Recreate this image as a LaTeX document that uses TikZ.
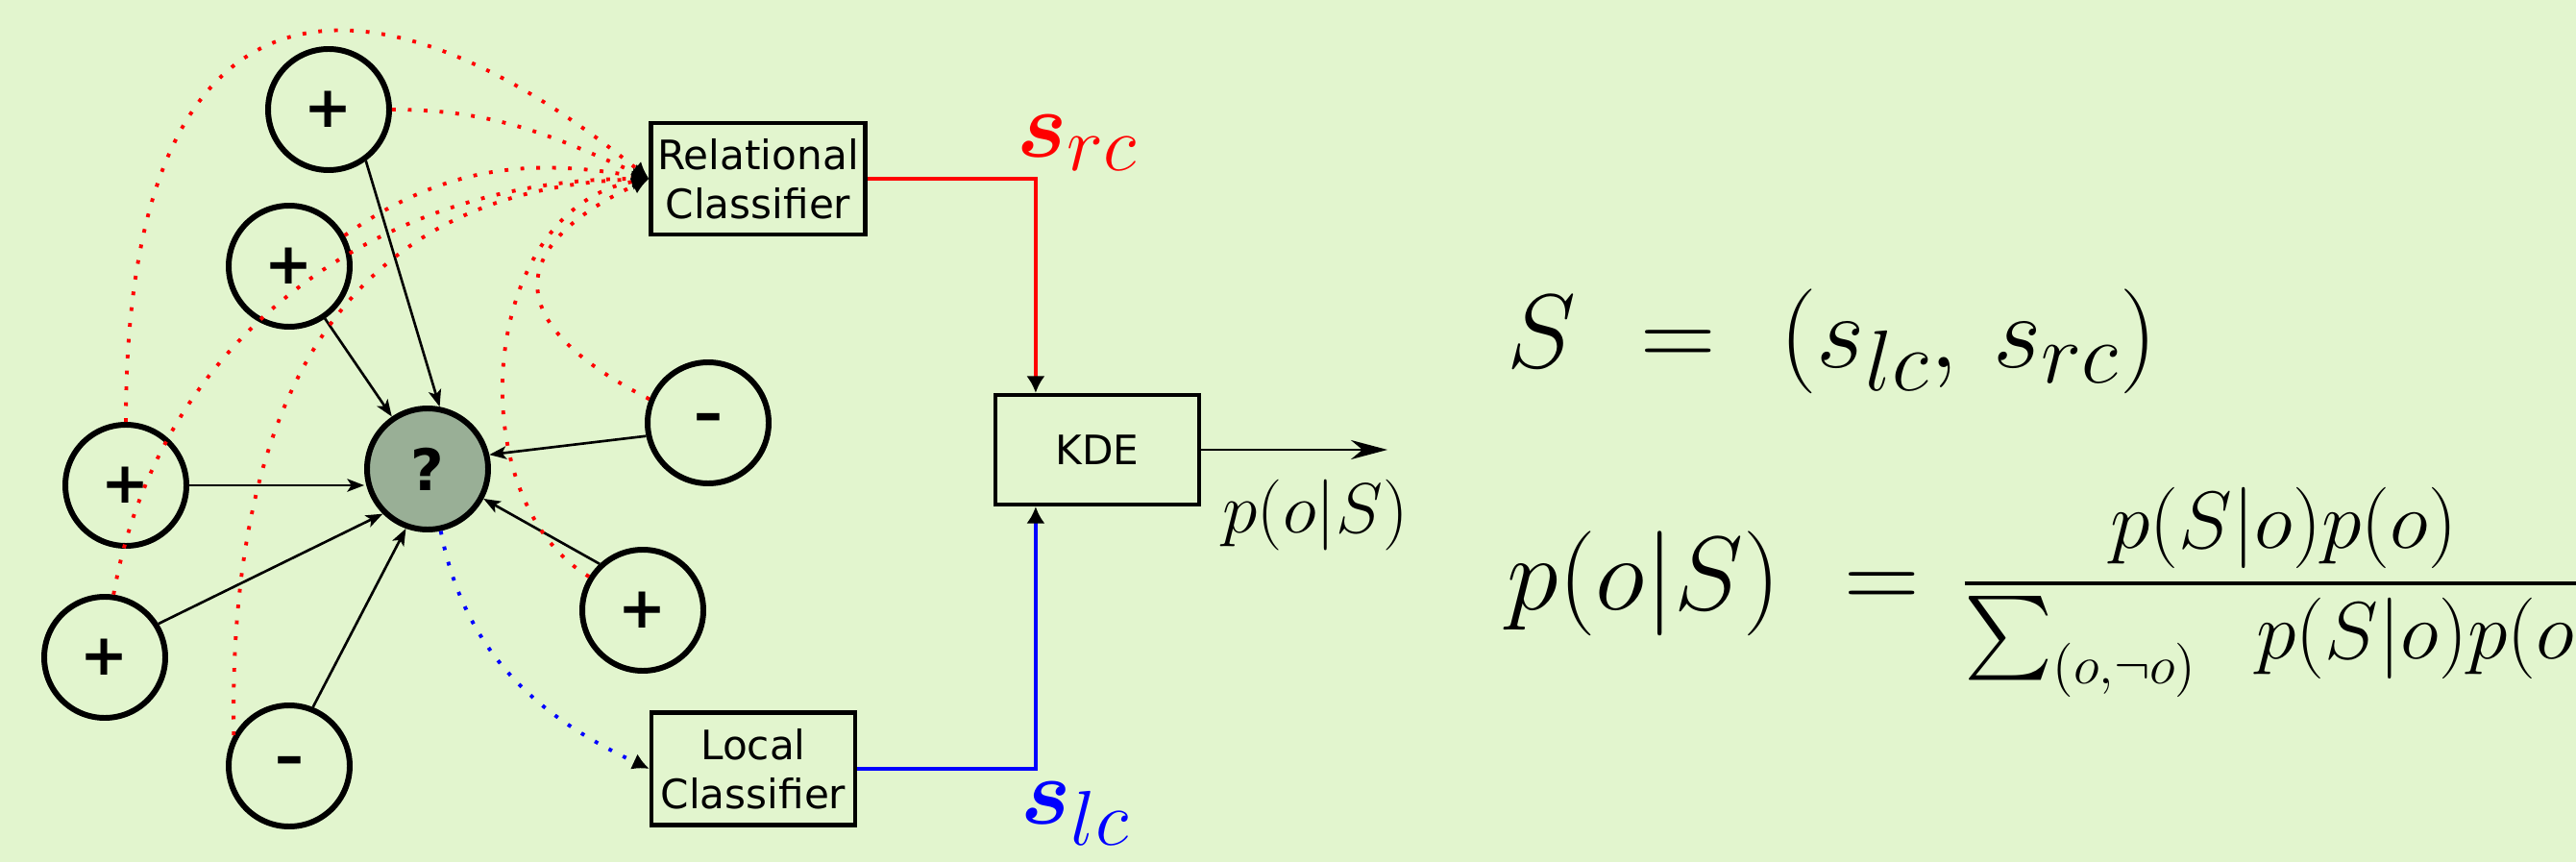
\RequirePackage{fix-cm}
\documentclass[tikz,border=0pt]{standalone}
\usepackage{exscale}
\usepackage{bm}
\usepackage{fontspec}
\newfontfamily\dejavu{DejaVu Sans}
\usetikzlibrary{arrows.meta}
\DeclareMathSizes{31}{31}{25.5}{20}
\DeclareMathSizes{28}{28}{23}{18}
\DeclareMathSizes{24}{24}{16}{12}
\definecolor{bgcol}{RGB}{226,245,206}
\definecolor{qcol}{RGB}{153,175,150}

\begin{document}
\begin{tikzpicture}[font=\dejavu,
	vertex/.style={circle,draw,line width=1.7pt,minimum size=1.26cm,inner sep=0pt,
		font=\dejavu\bfseries\fontsize{17}{17}\selectfont},
	box/.style={draw,line width=1.2pt,align=center,inner sep=0pt,
		font=\dejavu\fontsize{12}{14.5}\selectfont},
	link/.style={line width=0.75pt,-{Stealth[length=5pt,width=3.8pt,inset=1.2pt]}},
	rel/.style={red,line width=1.1pt,dash pattern=on 1.1pt off 3.6pt,
		-{Latex[color=black,length=5pt,width=5pt]}},
	loc/.style={rel,blue},
	feed/.style={line width=1pt,-{Latex[color=black,length=5pt,width=5.5pt]}},
	mathlabel/.style={anchor=base west,inner sep=0pt}]
	\path[use as bounding box] (0,0) rectangle (26.81,8.97);
	\fill[bgcol] (0,0) rectangle (26.81,8.97);
	\clip (0,0) rectangle (26.81,8.97);
	\foreach \n/\x/\y/\s in {p1/3.42/7.83/+,p2/3.01/6.20/+,p3/1.31/3.92/+,p4/1.09/2.13/+,
		p6/6.69/2.62/+,m1/7.37/4.57/–,m2/3.01/1.00/–}
	\node[vertex] (\n) at (\x,\y) {\s};
	\node[vertex,fill=qcol] (q) at (4.45,4.09) {?};
	\node[box,minimum width=2.23cm,minimum height=1.16cm] (rc) at (7.89,7.11) {Relational\\Classifier};
	\node[box,minimum width=2.12cm,minimum height=1.17cm] (lc) at (7.84,0.97) {Local\\Classifier};
	\node[box,minimum width=2.12cm,minimum height=1.14cm] (kde) at (11.42,4.29) {KDE};
	\coordinate (out) at (14.44,4.29);
	\draw[link] (p1.-54) -- (q.79);
	\draw[link] (p2) -- (q);
	\draw[link] (p3) -- (p3 -| q.west);
	\draw[link] (p4.32) -- (q.225);
	\draw[link] (m2.68) -- (q.250);
	\draw[link] (m1.192) -- (q.13);
	\draw[link] (p6.133) -- (q.-28);
	\draw[rel] (p1.east) to[out=0,in=156] (rc.west);
	\draw[rel] (p3.north) to[out=90,in=141,out distance=4.7cm,in distance=3.9cm] (rc.west);
	\draw[rel] (p2.29) to[out=35,in=170] (rc.west);
	\draw[rel] (p4.82) to[out=80,in=180] (rc.west);
	\draw[rel] (m2.151) to[out=91,in=182,out distance=3.38cm,in distance=3.26cm] (rc.west);
	\draw[rel] (p6.148) to[out=149,in=190,out distance=1.6cm,in distance=1.8cm] (rc.west);
	\draw[rel] (m1.158) to[out=153,in=205,out distance=1.9cm,in distance=1.5cm] (rc.west);
	\draw[loc] (q.-78) to[out=-79,in=155] (lc.west);
	\draw[feed,red] (rc.east) -| ([xshift=0.44cm]kde.north west);
	\draw[feed,blue] (lc.east) -| ([xshift=0.44cm]kde.south west);
	\draw[line width=0.85pt,-{Stealth[length=0.38cm,width=0.2cm,inset=0.12cm]}] (kde) -- (out);
	\node[mathlabel,red,font=\fontsize{28}{32}\selectfont] (src) at (10.58,7.34) {$\bm{s}_{rc}$};
	\node[mathlabel,blue,font=\fontsize{28}{32}\selectfont] (slc) at (10.62,0.40) {$\bm{s}_{lc}$};
	\node[mathlabel,font=\fontsize{21}{25}\selectfont] (pos) at (12.72,3.43) {$p(o|S)$};
	\node[mathlabel,font=\fontsize{31}{37}\selectfont] (eqS) at (15.68,5.15)
		{$S \mskip6mu = \mskip6mu (s_{lc},\mskip3mu s_{rc})$};
	\node[mathlabel,font=\fontsize{31}{37}\selectfont] (eqP) at (15.68,2.63)
		{$p(o|S) \mskip6mu = \mskip2mu \raisebox{1.75pt}{\fontsize{24}{29}\selectfont
		$\displaystyle\frac{p(S|o)p(o)}{\sum_{(o,\neg o)}\mskip10mu p(S|o)p(o)}$}$};
\end{tikzpicture}
\end{document}
